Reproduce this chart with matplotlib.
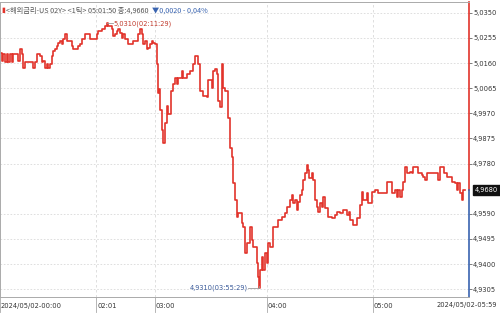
import matplotlib
matplotlib.use("Agg")
import matplotlib.pyplot as plt
import matplotlib.transforms as mtransforms

plot_fname = "out.png"

# bar index (tick count since 00:00) and price
bar_idx = [0, 2, 3, 5, 7, 8, 10, 12, 13, 17, 18, 20, 22, 23, 25, 28, 32, 33, 35, 37,
           40, 42, 43, 45, 47, 48, 50, 52, 53, 55, 57, 58, 60, 62, 63, 65, 67, 70, 72, 73,
           77, 78, 80, 82, 85, 88, 90, 95, 97, 98, 102, 105, 107, 108, 110, 112, 113, 115, 117, 118,
           120, 122, 123, 125, 128, 132, 133, 137, 138, 140, 142, 143, 145, 147, 148, 150, 152, 153, 155, 157,
           158, 159, 160, 162, 163, 165, 167, 168, 171, 173, 175, 177, 178, 182, 183, 187, 190, 193, 195, 197,
           198, 200, 203, 207, 208, 212, 213, 215, 217, 218, 220, 222, 223, 225, 228, 230, 232, 233, 235, 237,
           238, 242, 243, 245, 247, 250, 252, 253, 255, 257, 258, 259, 260, 262, 263, 265, 267, 268, 270, 273,
           275, 278, 282, 285, 287, 290, 292, 293, 295, 297, 298, 300, 302, 303, 305, 307, 308, 309, 312, 313,
           315, 317, 318, 320, 322, 323, 325, 328, 332, 335, 337, 340, 343, 347, 349, 350, 353, 357, 360, 362,
           363, 367, 368, 372, 375, 378, 383, 387, 390, 392, 395, 397, 398, 400, 402, 403, 405, 407, 410, 412,
           413, 417, 418, 422, 423, 425, 427, 437, 438, 440, 443, 444, 447, 450, 452, 455, 457, 458, 460, 462,
           463, 465]
price = [5.0199, 5.0169, 5.0195, 5.0162, 5.0195, 5.0162, 5.0195, 5.0162, 5.0195, 5.0195, 5.0169, 5.0214, 5.0195, 5.0143, 5.0162, 5.0162, 5.0162, 5.0143, 5.0162, 5.0195,
         5.0188, 5.0162, 5.0169, 5.0143, 5.0158, 5.0143, 5.0158, 5.0188, 5.0207, 5.0214, 5.0226, 5.0237, 5.0244, 5.0233, 5.0252, 5.0271, 5.0244, 5.0244, 5.0226, 5.0214,
         5.0214, 5.0226, 5.0233, 5.0252, 5.0271, 5.0271, 5.0252, 5.0252, 5.0271, 5.0282, 5.0290, 5.0301, 5.0310, 5.0301, 5.0301, 5.0290, 5.0263, 5.0271, 5.0282, 5.0290,
         5.0275, 5.0256, 5.0271, 5.0252, 5.0233, 5.0233, 5.0244, 5.0244, 5.0271, 5.0290, 5.0271, 5.0233, 5.0244, 5.0214, 5.0218, 5.0233, 5.0244, 5.0237, 5.0233, 5.0158,
         5.0045, 5.0063, 4.9981, 4.9905, 4.9856, 4.9932, 4.9999, 4.9969, 5.0056, 5.0082, 5.0105, 5.0082, 5.0105, 5.0131, 5.0105, 5.0120, 5.0131, 5.0158, 5.0188, 5.0188,
         5.0158, 5.0056, 5.0037, 5.0030, 5.0094, 5.0067, 5.0131, 5.0139, 5.0120, 5.0018, 4.9992, 5.0158, 5.0067, 5.0056, 4.9954, 4.9837, 4.9803, 4.9705, 4.9641, 4.9577,
         4.9592, 4.9554, 4.9539, 4.9441, 4.9479, 4.9539, 4.9490, 4.9464, 4.9464, 4.9404, 4.9351, 4.9310, 4.9377, 4.9426, 4.9377, 4.9441, 4.9404, 4.9479, 4.9464, 4.9539,
         4.9539, 4.9566, 4.9577, 4.9592, 4.9615, 4.9641, 4.9660, 4.9630, 4.9641, 4.9604, 4.9634, 4.9660, 4.9679, 4.9717, 4.9743, 4.9773, 4.9754, 4.9724, 4.9743, 4.9717,
         4.9641, 4.9615, 4.9596, 4.9630, 4.9615, 4.9653, 4.9611, 4.9577, 4.9573, 4.9585, 4.9596, 4.9592, 4.9604, 4.9585, 4.9596, 4.9566, 4.9547, 4.9573, 4.9622, 4.9671,
         4.9641, 4.9668, 4.9630, 4.9671, 4.9679, 4.9668, 4.9668, 4.9709, 4.9709, 4.9668, 4.9679, 4.9653, 4.9679, 4.9653, 4.9679, 4.9709, 4.9766, 4.9743, 4.9747, 4.9743,
         4.9766, 4.9766, 4.9743, 4.9735, 4.9728, 4.9717, 4.9743, 4.9743, 4.9717, 4.9766, 4.9766, 4.9743, 4.9728, 4.9728, 4.9709, 4.9705, 4.9679, 4.9705, 4.9668, 4.9641,
         4.9679, 4.9680]

y_ticks = [5.0350, 5.0255, 5.0160, 5.0065, 4.9970, 4.9875, 4.9780, 4.9590, 4.9495, 4.9400, 4.9305]
x_tick_idx = [0, 96, 155, 267, 373]
x_tick_labels = ["2024/05/02-00:00", "02:01", "03:00", "04:00", "05:00"]
last_label = "2024/05/02-05:59"

title_txt = "<해외금리-US 02Y> <1틱> 05:01:50 종:4,9660"
change_txt = "▼0,0020 - 0,04%"
last_price = 4.9680
hi_idx, hi_val, hi_txt = 107, 5.0310, "5,0310(02:11:29)"
lo_idx, lo_val, lo_txt = 259, 4.9310, "4,9310(03:55:29)"

red = "#e2332b"
blue = "#3a64b0"
kr = ["Noto Sans CJK KR", "DejaVu Sans"]
small = dict(fontsize=5.3, family="DejaVu Sans", fontstretch="condensed")


def fmt(v):
    return ("%.4f" % v).replace(".", ",")


fig = plt.figure(figsize=(5, 3.14), dpi=100)
ax = fig.add_axes([0.0, 0.054, 0.938, 0.94])

ax.plot(bar_idx, price, color=red, linewidth=1.2, drawstyle="steps-post")

ax.set_xlim(0, 469)
ax.set_ylim(4.92756, 5.0391)

# grid
for v in y_ticks:
    ax.axhline(v, color="#d9d9d9", linewidth=0.6, linestyle=(0, (2, 2)), zorder=0)
for i in x_tick_idx[1:]:
    ax.axvline(i, color="#d9d9d9", linewidth=0.6, linestyle=(0, (3, 3)), zorder=0)

# right price axis
ax.yaxis.tick_right()
ax.set_yticks(y_ticks)
ax.set_yticklabels([fmt(v) for v in y_ticks], color="#333333", **small)
ax.tick_params(axis="y", length=2, width=0.6, color="#666666", pad=1)
ax.set_xticks([])

for s in ["left", "top", "bottom"]:
    ax.spines[s].set_color("#aaaaaa")
    ax.spines[s].set_linewidth(0.7)
ax.spines["right"].set_visible(False)
frac = (last_price - 4.92756) / (5.0391 - 4.92756)
ax.plot([1, 1], [frac, 1], transform=ax.transAxes, color=red, linewidth=1.2, clip_on=False)
ax.plot([1, 1], [0, frac], transform=ax.transAxes, color=blue, linewidth=1.2, clip_on=False)

# time labels under the axis
trans = mtransforms.blended_transform_factory(ax.transData, ax.transAxes)
for i, lab in zip(x_tick_idx, x_tick_labels):
    ax.plot([i, i], [0, -0.05], transform=trans, color="#aaaaaa", linewidth=0.6, clip_on=False)
    ax.text(i + 1, -0.03, lab, transform=trans, color="#333333",
            ha="left", va="center", **small)
fig.text(0.994, 0.028, last_label, color="#333333", ha="right", va="center", **small)

# last price tag
ax.annotate(fmt(last_price), xy=(1.0, last_price), xycoords=("axes fraction", "data"),
            xytext=(4, 0), textcoords="offset points", color="white",
            ha="left", va="center", **small,
            bbox=dict(boxstyle="square,pad=0.25", fc="#111111", ec="#111111"))

# high / low marks
ax.plot([hi_idx, hi_idx + 6], [hi_val, hi_val], color="#999999", linewidth=0.6)
ax.text(hi_idx + 6.5, hi_val, hi_txt, color="#c0392b", ha="left", va="center", **small)
ax.plot([lo_idx, lo_idx, lo_idx - 11], [lo_val + 0.0006, lo_val, lo_val], color="#999999", linewidth=0.6)
ax.text(lo_idx - 11.5, lo_val, lo_txt, color="#3a5a9a", ha="right", va="center", **small)

# header
ax.text(0.002, 0.985, "▮", transform=ax.transAxes, fontsize=5, color=red, ha="left", va="top", family=kr)
t = ax.text(0.012, 0.985, title_txt, transform=ax.transAxes, fontsize=5.2, color="#555555",
            ha="left", va="top", family=kr)
ax.annotate(change_txt, xy=(1, 0.5), xycoords=t, xytext=(3, 0), textcoords="offset points",
            fontsize=5.2, color=blue, ha="left", va="center", family=kr)

plt.savefig(plot_fname, dpi=100)
